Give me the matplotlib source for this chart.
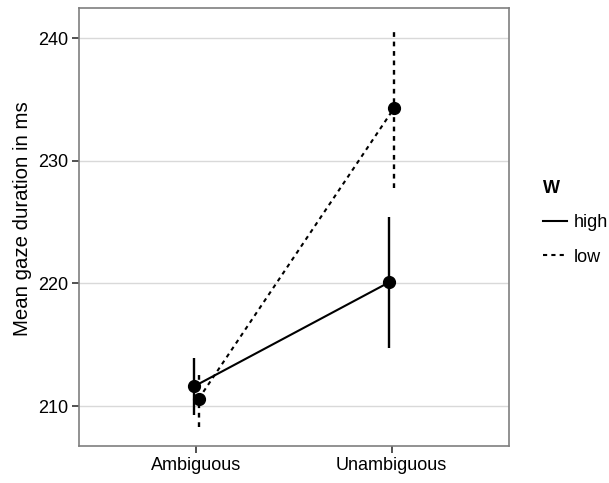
import numpy as np
import matplotlib.pyplot as plt
from matplotlib.lines import Line2D

plt.rcParams['font.family'] = ['Liberation Sans', 'DejaVu Sans']

# data
conditions = ['Ambiguous', 'Unambiguous']
groups = ['high', 'low']
means = {'high': [211.6, 220.1], 'low': [210.6, 234.3]}
lower = {'high': [209.3, 214.7], 'low': [208.3, 227.8]}
upper = {'high': [213.9, 225.45], 'low': [212.9, 240.8]}

styles = {'high': '-', 'low': (0, (2, 2))}
dodge = {'high': -0.0125, 'low': 0.0125}

fig = plt.figure(figsize=(6.09, 4.83), dpi=100)
ax = fig.add_axes([79 / 609, 1 - 446 / 483, 430 / 609, 438 / 483])

xs = np.arange(1, len(conditions) + 1)
for g in groups:
    x = xs + dodge[g]
    ax.vlines(x, lower[g], upper[g], colors='black', linewidth=1.7,
              linestyles=styles[g], zorder=3)
    ax.plot(x, means[g], color='black', linewidth=1.5, linestyle=styles[g],
            zorder=3)
    ax.plot(x, means[g], 'o', color='black', markersize=8.5, zorder=4)

ax.set_xlim(0.4, 2.6)
ax.set_ylim(206.75, 242.45)
ax.set_xticks(xs)
ax.set_xticklabels(conditions)
ax.set_yticks([210, 220, 230, 240])
ax.yaxis.grid(True, color='#d9d9d9', linewidth=1.0)
ax.set_axisbelow(True)
ax.tick_params(labelsize=13, length=5, width=1.2, color='#333333',
               labelcolor='black', pad=3)
for s in ax.spines.values():
    s.set_color('#7f7f7f')
    s.set_linewidth(1.2)
ax.set_ylabel('Mean gaze duration in ms', fontsize=14.7)
ax.yaxis.set_label_coords(-0.109, 0.518)

handles = [Line2D([], [], color='black', linewidth=1.5, linestyle=styles[g])
           for g in groups]
leg = fig.legend(handles, groups, title='W', loc='upper left',
                 bbox_to_anchor=(527 / 609, 1 - 164 / 483), frameon=False,
                 fontsize=13, handlelength=1.3, handletextpad=0.4,
                 labelspacing=0.95)
leg.get_title().set_fontweight('bold')
leg.get_title().set_fontsize(13)
leg._legend_box.align = 'left'

fig.savefig('out.png', dpi=100)
